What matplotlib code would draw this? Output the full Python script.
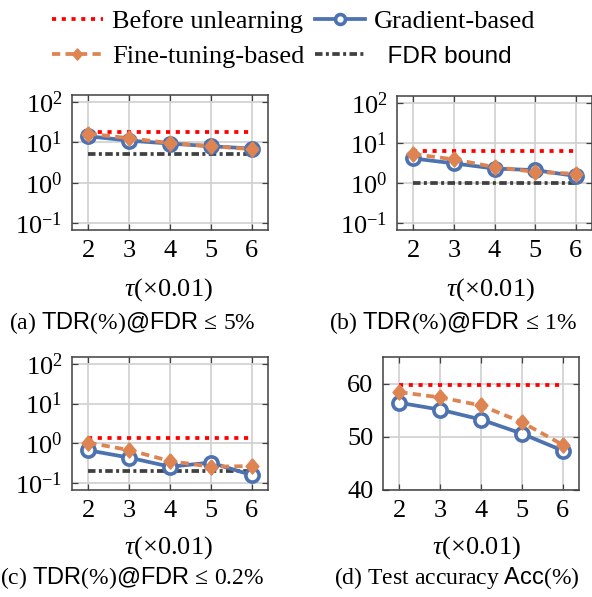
import matplotlib
matplotlib.use("Agg")
import matplotlib.pyplot as plt
from matplotlib.ticker import FixedLocator, NullLocator, LogFormatterSciNotation

plt.rcParams["font.family"] = ["Liberation Serif", "DejaVu Serif"]
plt.rcParams["mathtext.fontset"] = "custom"
plt.rcParams["mathtext.rm"] = "Liberation Serif"
plt.rcParams["mathtext.it"] = "Liberation Serif:italic"
plt.rcParams["mathtext.sf"] = "Liberation Sans"
plt.rcParams["font.size"] = 19

# ---- data ----
tau = [2, 3, 4, 5, 6]

# (a) TDR(%) @ FDR <= 5%
a_before = 18.1
a_fdr = 5.0
a_grad = [14.1, 11.0, 9.3, 8.0, 7.0]
a_fine = [16.4, 12.6, 9.6, 8.0, 6.8]

# (b) TDR(%) @ FDR <= 1%
b_before = 6.2
b_fdr = 1.0
b_grad = [4.1, 3.1, 2.3, 2.1, 1.5]
b_fine = [5.25, 3.9, 2.5, 1.9, 1.7]

# (c) TDR(%) @ FDR <= 0.2%
c_before = 1.36
c_fdr = 0.2
c_grad = [0.67, 0.44, 0.26, 0.33, 0.16]
c_fine = [1.04, 0.68, 0.36, 0.26, 0.27]

# (d) test accuracy Acc(%)
d_before = 59.8
d_grad = [56.4, 55.1, 53.25, 50.6, 47.4]
d_fine = [58.4, 57.4, 55.9, 52.75, 48.5]

log_ticks = [0.1, 1, 10, 100]
acc_ticks = [40, 50, 60]

captions = [
    r"(a) $\mathsf{TDR}(\%)\mathsf{@FDR}\,\leq\,5\%$",
    r"(b) $\mathsf{TDR}(\%)\mathsf{@FDR}\,\leq\,1\%$",
    r"(c) $\mathsf{TDR}(\%)\mathsf{@FDR}\,\leq\,0.2\%$",
    r"(d) Test accuracy $\mathsf{Acc}(\%)$",
]
xlabel = r"$\tau(\times 0.01)$"

# ---- style ----
RED = "#ff0000"
BLUE = "#4c72b0"
ORANGE = "#dd8452"
GRAY = "#404040"
LW = 2.7
DIAMOND = [(0, 1), (0.85, 0), (0, -1), (-0.85, 0), (0, 1)]

W, H = 592, 597
fig = plt.figure(figsize=(W / 100, H / 100), dpi=100)


def px_axes(x0, y0, x1, y1):
    return fig.add_axes([x0 / W, 1 - y1 / H, (x1 - x0) / W, (y1 - y0) / H])


def style(ax):
    ax.set_xlim(1.6, 6.4)
    ax.xaxis.set_major_locator(FixedLocator(tau))
    ax.grid(True, color="#d0d0d0", lw=1.2)
    ax.set_axisbelow(True)
    for s in ax.spines.values():
        s.set_color(GRAY)
        s.set_linewidth(1.1)
    ax.tick_params(which="both", direction="in", top=True, right=True,
                   length=4, width=0.9, color=GRAY, labelsize=19)
    ax.tick_params(axis="x", pad=7)
    ax.tick_params(axis="y", pad=7)


def draw(ax, before, grad, fine, fdr=None):
    ax.plot([tau[0], tau[-1]], [before, before], color=RED, lw=LW,
            ls=(0, (1.1, 1.5)), label="Before unlearning", zorder=2)
    if fdr is not None:
        ax.plot([tau[0], tau[-1]], [fdr, fdr], color=GRAY, lw=LW,
                ls=(0, (2.0, 0.9, 0.8, 0.9)), label="FDR bound", zorder=2)
    ax.plot(tau, grad, color=BLUE, lw=LW, marker="o", ms=9.5, mew=2.6,
            mfc="white", mec=BLUE, label="Gradient-based", zorder=3)
    ax.plot(tau, fine, color=ORANGE, lw=LW, ls=(0, (2.2, 1.4)), marker=DIAMOND,
            ms=11, mfc=ORANGE, mec=ORANGE, label="Fine-tuning-based", zorder=4)


panels = [
    ((72, 95, 268, 230), a_before, a_grad, a_fine, a_fdr),
    ((397, 96, 592, 230), b_before, b_grad, b_fine, b_fdr),
    ((72, 357, 268, 490), c_before, c_grad, c_fine, c_fdr),
]
axes = []
for box, before, grad, fine, fdr in panels:
    ax = px_axes(*box)
    draw(ax, before, grad, fine, fdr)
    ax.set_yscale("log")
    ax.set_ylim(10 ** -1.17, 10 ** 2.17)
    ax.yaxis.set_major_locator(FixedLocator(log_ticks))
    ax.yaxis.set_major_formatter(LogFormatterSciNotation())
    ax.yaxis.set_minor_locator(NullLocator())
    style(ax)
    axes.append(ax)

axd = px_axes(383, 357, 579, 490)
draw(axd, d_before, d_grad, d_fine)
axd.set_ylim(40, 65)
axd.yaxis.set_major_locator(FixedLocator(acc_ticks))
style(axd)
axes.append(axd)

# axis titles and captions
xlab_pos = [(168, 290), (490, 290), (168, 548), (476, 548)]
cap_pos = [(132, 323), (453, 323), (132, 578), (457, 578)]
for (xl, yl), (xc, yc), cap in zip(xlab_pos, cap_pos, captions):
    fig.text(xl / W, 1 - yl / H, xlabel, ha="center", va="center", fontsize=19)
    fig.text(xc / W, 1 - yc / H, cap, ha="center", va="center", fontsize=17)

# shared legend
h, l = axes[0].get_legend_handles_labels()
order = ["Before unlearning", "Fine-tuning-based", "Gradient-based", "FDR bound"]
hm = dict(zip(l, h))
leg = fig.legend([hm[k] for k in order], order, ncol=2, loc="center",
                 bbox_to_anchor=(294 / W, 1 - 39 / H), frameon=False,
                 handlelength=1.9, handletextpad=0.35, columnspacing=0.4,
                 labelspacing=0.45, fontsize=19, markerscale=0.75)
for t in leg.get_texts():
    if t.get_text() == "FDR bound":
        t.set_fontfamily("Liberation Sans")
        t.set_fontsize(17.5)
        t.set_text("  FDR bound")

fig.savefig("out.png", dpi=100)
